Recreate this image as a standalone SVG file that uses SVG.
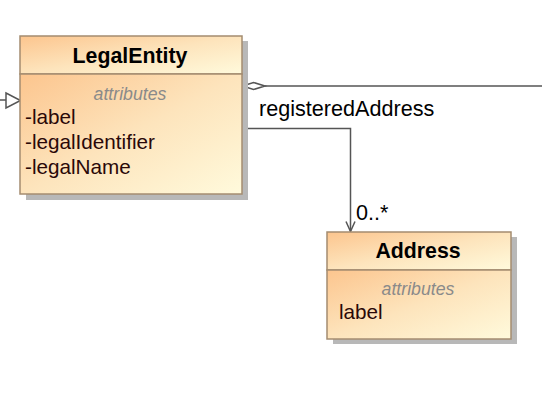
<svg xmlns="http://www.w3.org/2000/svg" width="542" height="406" viewBox="0 0 542 406">
  <defs>
    <linearGradient id="fill" x1="0" y1="0" x2="1" y2="1">
      <stop offset="0" stop-color="#fcc58e"/>
      <stop offset="0.5" stop-color="#fde4bc"/>
      <stop offset="1" stop-color="#fffadc"/>
    </linearGradient>
    <marker id="open" viewBox="0 0 12 12" refX="11" refY="6" markerWidth="12" markerHeight="12" markerUnits="userSpaceOnUse" orient="auto">
      <path d="M1,1.5 L11,6 L1,10.5" fill="none" stroke="#555" stroke-width="1.5"/>
    </marker>
  </defs>
  <style>
    .shadow { fill: #b8b8b8; }
    .box { fill: url(#fill); stroke: #a48c70; stroke-width: 1.5; }
    .title { font-family: "Liberation Sans", Arial, sans-serif; font-weight: bold; font-size: 21.3px; fill: #000; text-anchor: middle; }
    .stereo { font-family: "Liberation Sans", Arial, sans-serif; font-style: italic; font-size: 17.7px; fill: #8a8a8a; text-anchor: middle; }
    .attr { font-family: "Liberation Sans", Arial, sans-serif; font-size: 20.7px; fill: #2a0808; }
    .lbl { font-family: "Liberation Sans", Arial, sans-serif; font-size: 21.6px; fill: #000; }
    .edge { fill: none; stroke: #555; stroke-width: 1.5; }
  </style>

  <g id="connectors">
    <line class="edge" x1="0" y1="100" x2="6" y2="100"/>
    <path d="M6,93 L20.5,100.5 L6,108 Z" fill="#fff" stroke="#555" stroke-width="1.5"/>
    <line class="edge" x1="265" y1="86" x2="542" y2="86"/>
    <path d="M242.5,86 L253.5,82.5 L265,86 L253.5,89.5 Z" fill="#fff" stroke="#555" stroke-width="1.5"/>
    <path class="edge" d="M242,128.5 L350.5,128.5 L350.5,231.5" marker-end="url(#open)"/>
    <text class="lbl" x="259" y="116">registeredAddress</text>
    <text class="lbl" x="356" y="220">0..*</text>
  </g>

  <g id="LegalEntity">
    <rect class="shadow" x="26" y="41" width="222" height="159"/>
    <rect class="box" x="20" y="36" width="222" height="38"/>
    <rect class="box" x="20" y="74" width="222" height="120"/>
    <text class="title" x="130" y="63">LegalEntity</text>
    <text class="stereo" x="130" y="100">attributes</text>
    <text class="attr" x="25" y="124">-label</text>
    <text class="attr" x="25" y="149">-legalIdentifier</text>
    <text class="attr" x="25" y="174">-legalName</text>
  </g>

  <g id="Address">
    <rect class="shadow" x="333" y="237" width="184" height="107"/>
    <rect class="box" x="327" y="232" width="184" height="38"/>
    <rect class="box" x="327" y="270" width="184" height="69"/>
    <text class="title" x="418" y="258">Address</text>
    <text class="stereo" x="418" y="295">attributes</text>
    <text class="attr" x="339" y="319">label</text>
  </g>
</svg>
